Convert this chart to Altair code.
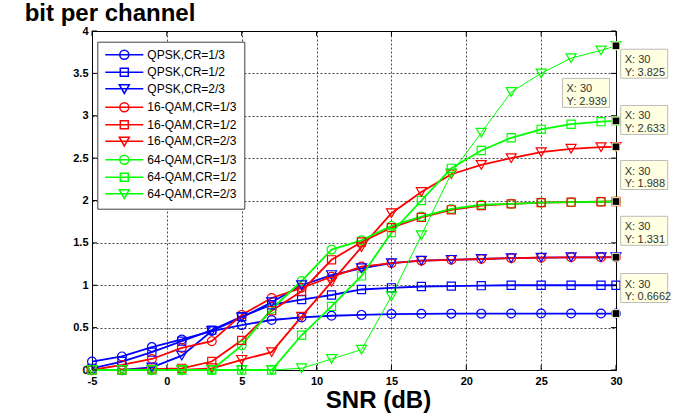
import altair as alt
import pandas as pd

# ---- data -------------------------------------------------------------
snr = [-5, -3, -1, 1, 3, 5, 7, 9, 11, 13, 15, 17, 19, 21, 23, 25, 27, 29, 30]

qpsk_13 = [0.10, 0.16, 0.27, 0.36, 0.46, 0.53, 0.59, 0.62, 0.64, 0.65, 0.66, 0.663, 0.665, 0.665, 0.666, 0.666, 0.666, 0.666, 0.6662]
qpsk_12 = [0.02, 0.10, 0.21, 0.34, 0.47, 0.63, 0.77, 0.83, 0.885, 0.95, 0.97, 0.985, 0.99, 0.995, 1.0, 1.0, 1.0, 1.0, 1.0]
qpsk_23 = [0.0, 0.0, 0.03, 0.17, 0.46, 0.62, 0.80, 1.00, 1.12, 1.20, 1.26, 1.29, 1.30, 1.31, 1.32, 1.325, 1.33, 1.33, 1.331]
qam16_13 = [0.0, 0.06, 0.13, 0.26, 0.34, 0.65, 0.85, 0.97, 1.10, 1.22, 1.26, 1.29, 1.30, 1.31, 1.32, 1.325, 1.33, 1.33, 1.331]
qam16_12 = [0.0, 0.0, 0.01, 0.02, 0.10, 0.35, 0.70, 0.93, 1.30, 1.51, 1.68, 1.80, 1.89, 1.94, 1.96, 1.975, 1.98, 1.985, 1.988]
qam16_23 = [0.0, 0.0, 0.0, 0.0, 0.02, 0.12, 0.21, 0.63, 1.04, 1.45, 1.85, 2.10, 2.31, 2.42, 2.50, 2.57, 2.61, 2.63, 2.633]
qam64_13 = [0.0, 0.0, 0.0, 0.0, 0.0, 0.29, 0.72, 1.05, 1.42, 1.53, 1.70, 1.81, 1.90, 1.95, 1.96, 1.975, 1.98, 1.985, 1.988]
qam64_12 = [0.0, 0.0, 0.0, 0.0, 0.0, 0.0, 0.0, 0.41, 0.75, 1.11, 1.62, 2.00, 2.38, 2.59, 2.74, 2.84, 2.90, 2.93, 2.939]
qam64_23 = [0.0, 0.0, 0.0, 0.0, 0.0, 0.0, 0.0, 0.02, 0.13, 0.24, 0.87, 1.59, 2.32, 2.80, 3.28, 3.50, 3.68, 3.77, 3.825]

series_names = ["QPSK,CR=1/3", "QPSK,CR=1/2", "QPSK,CR=2/3",
                "16-QAM,CR=1/3", "16-QAM,CR=1/2", "16-QAM,CR=2/3",
                "64-QAM,CR=1/3", "64-QAM,CR=1/2", "64-QAM,CR=2/3"]
series_values = [qpsk_13, qpsk_12, qpsk_23, qam16_13, qam16_12, qam16_23,
                 qam64_13, qam64_12, qam64_23]

x_ticks = [-5, 0, 5, 10, 15, 20, 25, 30]
y_ticks = [0, 0.5, 1, 1.5, 2, 2.5, 3, 3.5, 4]

# data tips shown at SNR = 30
tip_x = 30
tip_values = [3.825, 2.939, 2.633, 1.988, 1.331, 0.6662]

# ---- styling ----------------------------------------------------------
series_colors = ["#0000ff"] * 3 + ["#ff0000"] * 3 + ["#00ff00"] * 3
series_markers = ["circle", "square", "triangle-down"] * 3
line_widths = [1.8] * 8 + [1.0]

# legend glyphs: a short line with the marker in the middle (1 unit = 5 px)
marker_glyph = {
    "circle": "M0.9,0A0.9,0.9 0 1,1 -0.9,0A0.9,0.9 0 1,1 0.9,0Z",
    "square": "M-0.8,-0.8H0.8V0.8H-0.8Z",
    "triangle-down": "M-1,-0.8L1,-0.8L0,0.95Z",
}
legend_paths = ["M-3.8,0H3.8" + marker_glyph[m] for m in series_markers]

# placement of each tip box relative to its anchor point, in pixels
tip_box_offsets = [(28.2, 17.9), (-30.0, -28.0), (28.2, -26.9),
                   (28.2, -26.5), (28.2, -26.4), (28.2, -25.5)]
box_w, box_h = 47, 29

FONT = "Liberation Sans"

rows = []
for name, vals, lw, mk, col in zip(series_names, series_values, line_widths,
                                   series_markers, series_colors):
    for s, v in zip(snr, vals):
        rows.append({"series": name, "snr": s, "bits": v, "lw": lw,
                     "marker": mk, "col": col})
df = pd.DataFrame(rows)

xscale = alt.Scale(domain=[-5, 30], nice=False, zero=False)
yscale = alt.Scale(domain=[0, 4], nice=False, zero=False)
color_scale = alt.Scale(domain=series_names, range=series_colors)

xaxis = alt.Axis(
    values=x_ticks, title="SNR (dB)", labelExpr="'' + datum.value",
    grid=True, gridDash=[2, 2], gridColor="black", gridWidth=0.8, gridOpacity=0.9,
    ticks=False, domainColor="black", domainWidth=1,
    labelFont=FONT, labelFontWeight="bold", labelFontSize=11, labelColor="black",
    labelPadding=5, labelOverlap=False, labelFlush=False,
    titleFont=FONT, titleFontSize=24, titleFontWeight="bold", titleColor="black",
    titleX=286, titleY=37.5, titleAlign="center", titleBaseline="alphabetic",
)
yaxis = alt.Axis(
    values=y_ticks, title="bit per channel", labelExpr="format(datum.value, '~g')",
    grid=True, gridDash=[2, 2], gridColor="black", gridWidth=0.8, gridOpacity=0.9,
    ticks=False, domainColor="black", domainWidth=1,
    labelFont=FONT, labelFontWeight="bold", labelFontSize=11, labelColor="black",
    labelPadding=4, labelOverlap=False, labelFlush=False,
    titleFont=FONT, titleFontSize=24, titleFontWeight="bold", titleColor="black",
    titleAngle=0, titleX=17.5, titleY=-11, titleAlign="center", titleBaseline="alphabetic",
)

X = alt.X("snr:Q", scale=xscale, axis=xaxis)
Y = alt.Y("bits:Q", scale=yscale, axis=yaxis)
C = alt.Color("col:N", scale=None)

lines = alt.Chart(df).mark_line().encode(
    x=X, y=Y, color=C,
    strokeWidth=alt.StrokeWidth("lw:Q", scale=None),
    detail="series:N",
)

marker_sizes = {"circle": 78, "square": 66, "triangle-down": 100}
point_layers = [
    alt.Chart(df).transform_filter(alt.datum.marker == mk).mark_point(
        shape=mk, size=marker_sizes[mk], filled=False, strokeWidth=1.2, opacity=1
    ).encode(x=X, y=Y, color=C)
    for mk in ["circle", "square", "triangle-down"]
]

legend_def = alt.Legend(
    title=None, orient="none", legendX=5.3, legendY=10.7, direction="vertical",
    fillColor="white", strokeColor="#404040", padding=7,
    symbolSize=100, symbolStrokeWidth=1.5, symbolOffset=14, symbolFillColor="transparent",
    labelOffset=17, labelFont=FONT, labelFontSize=12, labelColor="black", labelLimit=0,
    rowPadding=2.5,
)
legend_layer = alt.Chart(df).transform_filter("false").mark_point(
    filled=False, opacity=1, size=100, strokeWidth=1.5
).encode(
    x=X, y=Y,
    color=alt.Color("series:N", scale=color_scale, legend=legend_def),
    shape=alt.Shape("series:N", scale=alt.Scale(domain=series_names, range=legend_paths),
                    legend=legend_def),
)

# inward tick marks on all four sides of the frame
xt = pd.DataFrame({"snr": x_ticks})
yt = pd.DataFrame({"bits": y_ticks})
tick_layers = [
    alt.Chart(xt).mark_tick(orient="vertical", size=5, thickness=1, color="black",
                            opacity=1, yOffset=-2.5).encode(x=X, y=alt.datum(0, scale=yscale)),
    alt.Chart(xt).mark_tick(orient="vertical", size=5, thickness=1, color="black",
                            opacity=1, yOffset=2.5).encode(x=X, y=alt.datum(4, scale=yscale)),
    alt.Chart(yt).mark_tick(orient="horizontal", size=5, thickness=1, color="black",
                            opacity=1, xOffset=2.5).encode(y=Y, x=alt.datum(-5, scale=xscale)),
    alt.Chart(yt).mark_tick(orient="horizontal", size=5, thickness=1, color="black",
                            opacity=1, xOffset=-2.5).encode(y=Y, x=alt.datum(30, scale=xscale)),
]

tip_layers = []
for v, (dx, dy) in zip(tip_values, tip_box_offsets):
    tdf = pd.DataFrame({"snr": [tip_x], "bits": [v]})
    box_path = "M{:.2f},{:.2f}h{:.2f}v{:.2f}h{:.2f}Z".format(
        (dx - box_w / 2) / 5, (dy - box_h / 2) / 5, box_w / 5, box_h / 5, -box_w / 5)
    box = alt.Chart(tdf).mark_point(
        shape=box_path, size=100, filled=True, fill="#ffffe1", stroke="#bcbcbc",
        strokeWidth=1, opacity=1,
    ).encode(x=X, y=Y)
    left = dx - box_w / 2 + 4
    line1 = alt.Chart(tdf).mark_text(
        align="left", baseline="middle", dx=left, dy=dy - 3.5,
        font=FONT, fontSize=11, color="#333333",
    ).encode(x=X, y=Y, text=alt.value("X: {}".format(tip_x)))
    line2 = alt.Chart(tdf).mark_text(
        align="left", baseline="middle", dx=left, dy=dy + 8.8,
        font=FONT, fontSize=11, color="#333333",
    ).encode(x=X, y=Y, text=alt.value("Y: {}".format(v)))
    anchor = alt.Chart(tdf).mark_square(
        size=60, color="black", stroke="#ffffd0", strokeWidth=1, opacity=1,
    ).encode(x=X, y=Y)
    tip_layers += [box, line1, line2, anchor]

chart = alt.layer(
    lines, *point_layers, legend_layer, *tick_layers, *tip_layers
).properties(
    width=524, height=339,
    padding={"left": 92, "top": 31, "right": 62, "bottom": 46},
    autosize=alt.AutoSizeParams(type="none"),
).configure(
    background="white",
).configure_view(
    stroke="black", strokeWidth=1,
)

chart.save("out.html", embed_options={"renderer": "svg", "actions": False})
